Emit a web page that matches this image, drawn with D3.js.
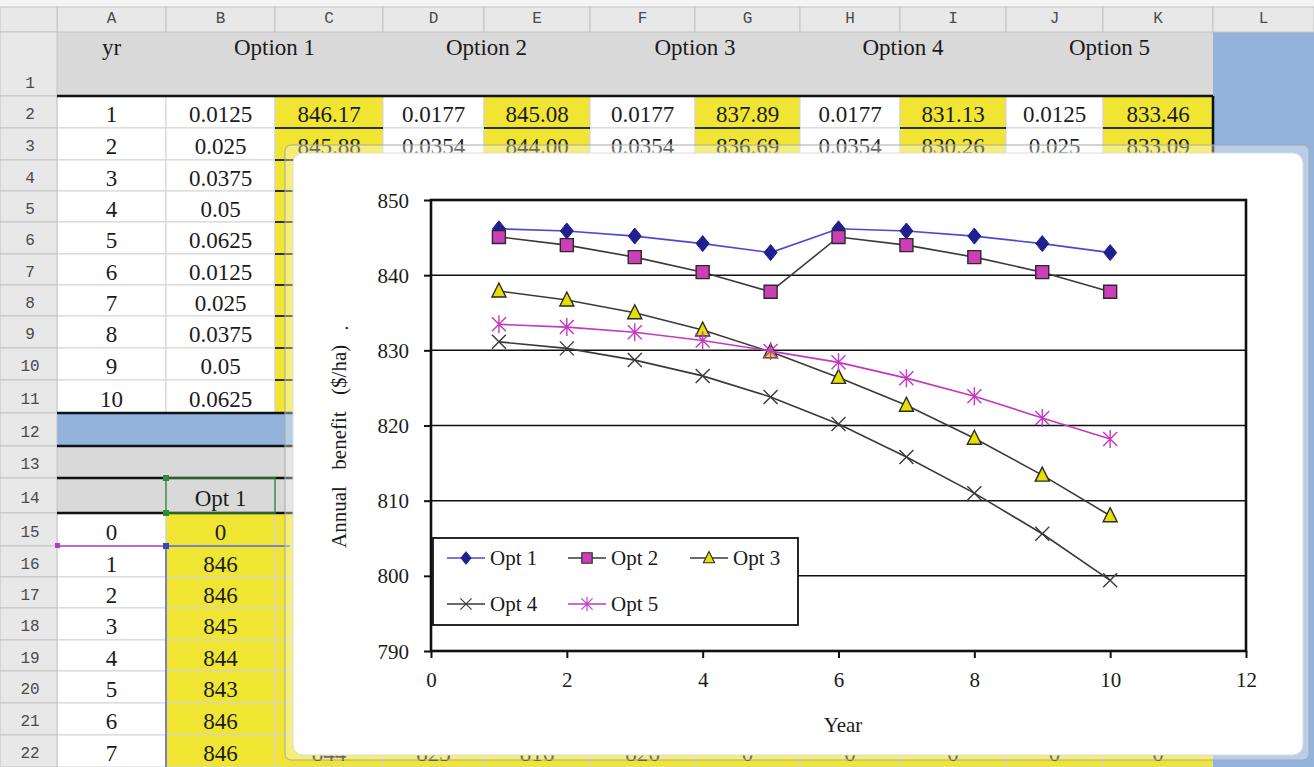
<!DOCTYPE html>
<html><head><meta charset="utf-8">
<script src="https://cdn.jsdelivr.net/npm/d3@7"></script>
<style>html,body{margin:0;padding:0;background:#fff;overflow:hidden}</style>
</head><body><svg id="c" width="1314" height="767"></svg>
<script>
// ===== chart data =====
const years = [1,2,3,4,5,6,7,8,9,10];
const opt1 = [846.17,845.88,845.2,844.2,843.0,846.17,845.88,845.2,844.2,843.0];
const opt2 = [845.08,844.00,842.4,840.4,837.8,845.08,844.00,842.4,840.4,837.8];
const opt3 = [837.89,836.69,835.0,832.7,829.8,826.4,822.7,818.3,813.4,808.0];
const opt4 = [831.13,830.26,828.7,826.6,823.8,820.2,815.8,811.0,805.6,799.4];
const opt5 = [833.46,833.09,832.4,831.3,829.9,828.4,826.3,823.9,821.0,818.2];
const seriesNames = ["Opt 1","Opt 2","Opt 3","Opt 4","Opt 5"];
const xTicks = [0,2,4,6,8,10,12];
const yTicks = [790,800,810,820,830,840,850];
const xTitle = "Year";
const yTitle = "Annual  benefit  ($/ha)";

// ===== spreadsheet data =====
const colLetters = ["A","B","C","D","E","F","G","H","I","J","K","L"];
const optionHeaders = ["Option 1","Option 2","Option 3","Option 4","Option 5"];
const yrLabel = "yr";
const row2 = ["1","0.0125","846.17","0.0177","845.08","0.0177","837.89","0.0177","831.13","0.0125","833.46"];
const row3 = ["2","0.025","845.88","0.0354","844.00","0.0354","836.69","0.0354","830.26","0.025","833.09"];
const upperYears = ["3","4","5","6","7","8","9","10"];
const upperRates = ["0.0375","0.05","0.0625","0.0125","0.025","0.0375","0.05","0.0625"];
const lowerHeader = "Opt 1";
const lowerYears = ["0","1","2","3","4","5","6","7"];
const lowerOpt1 = ["0","846","846","845","844","843","846","846"];
const row22Rest = ["844","823","816","826","0","0","0","0","0"];

// ===== layout (not data) =====
const colEdges = [0,57,166,275,383,484,590,695,800,900,1006,1103,1213,1314];
const rowEdges = [7,32,96,128,160,191,222,254,285,316,348,380,413,446,478,513,546,577,608,640,671,703,735,767];
const C = {grey:"#d9d9d9", hdr:"#e8e8e8", yellow:"#f0e532", blue:"#93b3dc", grid:"#d3d3d3", text:"#1b1b1b"};

const svg = d3.select("#c");
const serif = "'Liberation Serif','Times New Roman',serif";
const mono = "'Liberation Mono','DejaVu Sans Mono',monospace";

const cx0 = c => colEdges[c+1], cx1 = c => colEdges[c+2];
const ry0 = r => rowEdges[r], ry1 = r => rowEdges[r+1];

function fillOf(r, c) {
  if (c === 11) return C.blue;
  if (r === 1) return C.grey;
  if (r === 12) return C.blue;
  if (r === 13 || r === 14) return C.grey;
  if (r >= 2 && r <= 11) return (c >= 2 && c % 2 === 0) ? C.yellow : "#ffffff";
  if (r >= 15) return c === 0 ? "#ffffff" : C.yellow;
  return "#fff";
}

// cell backgrounds
const cellBg = [];
for (let r = 1; r <= 22; r++) for (let c = 0; c < 12; c++) cellBg.push({r, c});
svg.append("g").selectAll("rect").data(cellBg).join("rect")
  .attr("x", d => cx0(d.c)).attr("y", d => ry0(d.r))
  .attr("width", d => cx1(d.c) - cx0(d.c)).attr("height", d => ry1(d.r) - ry0(d.r))
  .attr("fill", d => fillOf(d.r, d.c))
  .attr("stroke", d => (d.r===1||d.r>=12&&d.r<=14||d.c===11) ? "none" : C.grid).attr("stroke-width", 1);

// header row & row-number column
svg.append("rect").attr("x",0).attr("y",0).attr("width",1314).attr("height",7).attr("fill","#f4f4f4");
svg.append("g").selectAll("rect").data(colLetters).join("rect")
  .attr("x", (d,i) => cx0(i)).attr("y", rowEdges[0]).attr("width", (d,i)=>cx1(i)-cx0(i)).attr("height", rowEdges[1]-rowEdges[0])
  .attr("fill", C.hdr).attr("stroke", "#c4c4c4");
svg.append("rect").attr("x",0).attr("y",rowEdges[0]).attr("width",57).attr("height",25).attr("fill",C.hdr).attr("stroke","#c4c4c4");
svg.append("g").selectAll("text").data(colLetters).join("text")
  .attr("x", (d,i) => (cx0(i)+cx1(i))/2).attr("y", 23).attr("text-anchor","middle")
  .attr("font-family", mono).attr("font-size", 16).attr("fill", "#4a4a4a").text(d => d);
const rowNums = d3.range(1, 23);
svg.append("g").selectAll("rect").data(rowNums).join("rect")
  .attr("x",0).attr("y", r => ry0(r)).attr("width",57).attr("height", r => ry1(r)-ry0(r))
  .attr("fill", C.hdr).attr("stroke","#c4c4c4");
svg.append("g").selectAll("text").data(rowNums).join("text")
  .attr("x", 30).attr("y", r => r===1 ? 88 : (ry0(r)+ry1(r))/2 + 7).attr("text-anchor","middle")
  .attr("font-family", mono).attr("font-size", 16).attr("fill", "#4a4a4a").text(r => r);

// yellow cell bottom borders (rows 2-11)
const yb = [];
for (let r = 2; r <= 11; r++) for (let c = 2; c <= 10; c += 2) yb.push({r, c});
svg.append("g").selectAll("line").data(yb).join("line")
  .attr("x1", d => cx0(d.c)).attr("x2", d => cx1(d.c)).attr("y1", d => ry1(d.r)).attr("y2", d => ry1(d.r))
  .attr("stroke", "#2e2e22").attr("stroke-width", 2.2);

// thick rules
[96, 413, 446, 478, 513].forEach(y => svg.append("line").attr("x1",57).attr("x2",1213).attr("y1",y).attr("y2",y)
  .attr("stroke","#111").attr("stroke-width",2.6));
svg.append("line").attr("x1",1213).attr("x2",1213).attr("y1",96).attr("y2",446).attr("stroke","#111").attr("stroke-width",2.6);

// cell texts
const cellTxt = [];
cellTxt.push({r:1, x:(cx0(0)+cx1(0))/2, y:55, t:yrLabel});
optionHeaders.forEach((h,i) => cellTxt.push({r:1, x:(cx0(1+2*i)+cx1(2+2*i))/2, y:55, t:h}));
row2.forEach((t,c) => cellTxt.push({r:2, c, t}));
row3.forEach((t,c) => cellTxt.push({r:3, c, t}));
upperYears.forEach((t,i) => cellTxt.push({r:4+i, c:0, t}));
upperRates.forEach((t,i) => cellTxt.push({r:4+i, c:1, t}));
cellTxt.push({r:14, c:1, t:lowerHeader});
lowerYears.forEach((t,i) => cellTxt.push({r:15+i, c:0, t}));
lowerOpt1.forEach((t,i) => cellTxt.push({r:15+i, c:1, t}));
row22Rest.forEach((t,i) => cellTxt.push({r:22, c:2+i, t}));
svg.append("g").selectAll("text").data(cellTxt).join("text")
  .attr("x", d => d.x !== undefined ? d.x : (cx0(d.c)+cx1(d.c))/2)
  .attr("y", d => d.y !== undefined ? d.y : (ry0(d.r)+ry1(d.r))/2 + 10)
  .attr("text-anchor","middle").attr("font-family", serif).attr("font-size", 23)
  .attr("fill", C.text).text(d => d.t);

// selection artefacts
svg.append("rect").attr("x",166).attr("y",478).attr("width",109).attr("height",35).attr("fill","none").attr("stroke","#2f8a3a").attr("stroke-width",1.4);
[[166,478],[166,513]].forEach(p => svg.append("rect").attr("x",p[0]-3).attr("y",p[1]-3).attr("width",6).attr("height",6).attr("fill","#2f8a3a"));
svg.append("line").attr("x1",57).attr("x2",166).attr("y1",546).attr("y2",546).attr("stroke","#b040c8").attr("stroke-width",1.6);
svg.append("line").attr("x1",166).attr("x2",290).attr("y1",546).attr("y2",546).attr("stroke","#5a6ad0").attr("stroke-width",1.6);
svg.append("line").attr("x1",166).attr("x2",166).attr("y1",546).attr("y2",767).attr("stroke","#5a6ad0").attr("stroke-width",1.6);
svg.append("rect").attr("x",55).attr("y",543).attr("width",5).attr("height",5).attr("fill","#b040c8");
svg.append("rect").attr("x",163).attr("y",543).attr("width",6).attr("height",6).attr("fill","#3848c0");

// ===== chart object =====
svg.append("rect").attr("x",285).attr("y",145).attr("width",1024).attr("height",615).attr("rx",6)
  .attr("fill","#ffffff").attr("fill-opacity",0.35).attr("stroke","#a8a8a8").attr("stroke-width",1);
svg.append("rect").attr("x",293).attr("y",153).attr("width",1010).attr("height",602).attr("rx",10)
  .attr("fill","#ffffff").attr("stroke","#dcdcdc").attr("stroke-width",1);

const x = d3.scaleLinear().domain([0,12]).range([431,1246]);
const y = d3.scaleLinear().domain([790,850]).range([651,200]);
const g = svg.append("g");

// gridlines
g.append("g").selectAll("line").data(yTicks.filter(v => v>790 && v<850)).join("line")
  .attr("x1", x(0)).attr("x2", x(12)).attr("y1", d => y(d)).attr("y2", d => y(d))
  .attr("stroke","#111").attr("stroke-width",1.5);

// axes
const yAxis = g.append("g").attr("transform",`translate(${x(0)},0)`)
  .call(d3.axisLeft(y).tickValues(yTicks).tickSize(7).tickPadding(15).tickFormat(d3.format("d")));
const xAxis = g.append("g").attr("transform",`translate(0,${y(790)})`)
  .call(d3.axisBottom(x).tickValues(xTicks).tickSize(7).tickFormat(d3.format("d")));
[yAxis, xAxis].forEach(a => {
  a.select(".domain").remove();
  a.selectAll(".tick line").attr("stroke","#111").attr("stroke-width",2);
  a.selectAll(".tick text").attr("font-family", serif).attr("font-size", 21).attr("fill","#1b1b1b");
});
yAxis.selectAll(".tick text").attr("dy","0.34em");
xAxis.selectAll(".tick text").attr("y", 36).attr("dy", 0);

// plot frame
g.append("rect").attr("x", x(0)).attr("y", y(850)).attr("width", x(12)-x(0)).attr("height", y(790)-y(850))
  .attr("fill","none").attr("stroke","#111").attr("stroke-width",2.6);

// titles
g.append("text").attr("x", 843).attr("y", 732).attr("text-anchor","middle")
  .attr("font-family", serif).attr("font-size", 21).attr("fill","#1b1b1b").text(xTitle);
g.append("text").attr("transform","translate(346,548) rotate(-90)").attr("text-anchor","start")
  .style("white-space","pre").style("word-spacing","3px").attr("font-family", serif).attr("font-size", 21).attr("fill","#1b1b1b").text(yTitle);
g.append("text").attr("transform","translate(348,328) rotate(-90)").attr("text-anchor","middle")
  .attr("font-family", serif).attr("font-size", 20).attr("fill","#1b1b1b").text(".");

// markers
const markers = {
  diamond: "M0,-8L6.5,0L0,8L-6.5,0Z",
  square: "M-6.5,-6.5H6.5V6.5H-6.5Z",
  triangle: "M0,-8L7,6H-7Z",
  x: "M-7,-7L7,7M-7,7L7,-7",
  star: "M-7,-7L7,7M-7,7L7,-7M0,-9V9"
};
const series = [
  {name: seriesNames[0], vals: opt1, line: "#4a4ad0", m: markers.diamond, fill: "#1f1f8f", stroke: "#1f1f8f", sw: 1},
  {name: seriesNames[1], vals: opt2, line: "#3a3a3a", m: markers.square, fill: "#cc3fb8", stroke: "#2a2a2a", sw: 1.4},
  {name: seriesNames[2], vals: opt3, line: "#3a3a3a", m: markers.triangle, fill: "#e6e000", stroke: "#2a2a2a", sw: 1.4},
  {name: seriesNames[3], vals: opt4, line: "#3a3a3a", m: markers.x, fill: "none", stroke: "#3a3a3a", sw: 1.4},
  {name: seriesNames[4], vals: opt5, line: "#c438c4", m: markers.star, fill: "none", stroke: "#c438c4", sw: 1.4}
];
const line = d3.line().x((d,i) => x(years[i])).y(d => y(d));
const sg = g.append("g").selectAll("g").data(series).join("g");
sg.append("path").attr("d", d => line(d.vals)).attr("fill","none").attr("stroke", d => d.line).attr("stroke-width",1.6);
sg.each(function(s) {
  d3.select(this).selectAll("path.m").data(s.vals).join("path").attr("class","m")
    .attr("transform", (v,i) => `translate(${x(years[i])},${y(v)})`)
    .attr("d", s.m).attr("fill", s.fill).attr("stroke", s.stroke).attr("stroke-width", s.sw);
});

// legend
const lg = g.append("g");
lg.append("rect").attr("x",433).attr("y",538).attr("width",365).attr("height",87)
  .attr("fill","#fff").attr("stroke","#111").attr("stroke-width",1.8);
const legPos = [[447,558],[568,558],[690,558],[447,604],[568,604]];
const li = lg.selectAll("g").data(series).join("g").attr("transform",(d,i)=>`translate(${legPos[i][0]},${legPos[i][1]})`);
li.append("line").attr("x1",0).attr("x2",38).attr("stroke", d => d.line).attr("stroke-width",1.6);
li.append("path").attr("transform","translate(19,0) scale(0.8)").attr("d", d => d.m)
  .attr("fill", d => d.fill).attr("stroke", d => d.stroke).attr("stroke-width", d => d.sw);
li.append("text").attr("x",43).attr("y",7).attr("font-family", serif).attr("font-size", 21).attr("fill","#1b1b1b").text(d => d.name);
</script></body></html>
